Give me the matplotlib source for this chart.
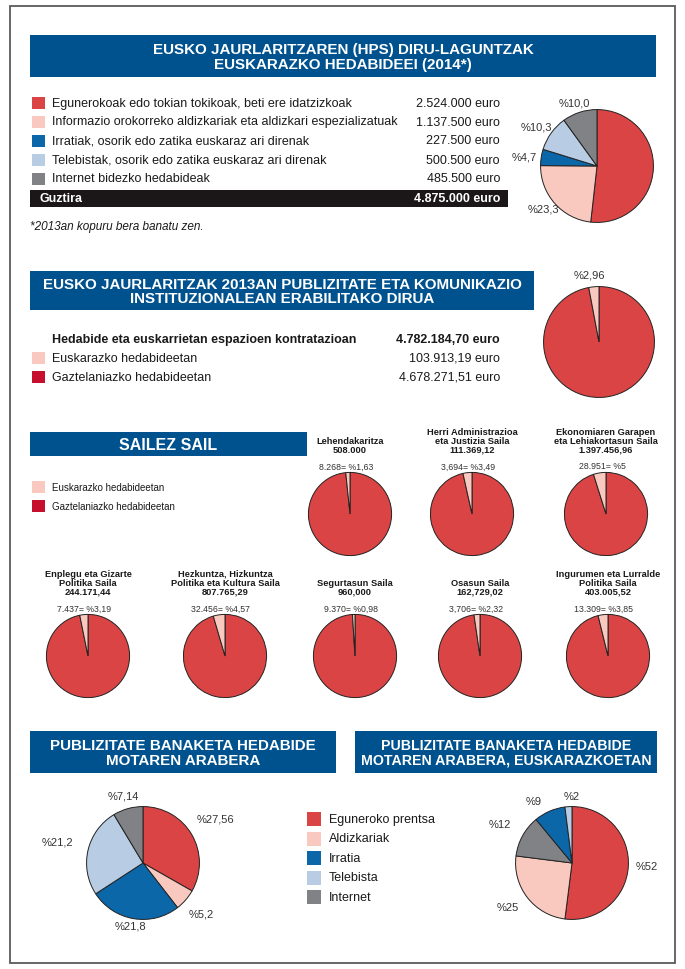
import matplotlib.pyplot as plt
from matplotlib.patches import Rectangle

plt.rcParams['font.family'] = ['Liberation Sans', 'DejaVu Sans']

W, H = 685, 970

RED = '#db4444'
PINK = '#f9c9c0'
BLUE = '#0b67a8'
LBLUE = '#b8cce4'
GRAY = '#818285'
HEAD = '#00528f'
DARKRED = '#c50f2c'
INNER = '#5a0a0a'
TXT = '#1a1a1a'

# --- data ---
subsidy_labels = ["Egunerokoak edo tokian tokikoak, beti ere idatzizkoak",
                  "Informazio orokorreko aldizkariak eta aldizkari espezializatuak",
                  "Irratiak, osorik edo zatika euskaraz ari direnak",
                  "Telebistak, osorik edo zatika euskaraz ari direnak",
                  "Internet bidezko hedabideak"]
subsidy_euro = [2524000, 1137500, 227500, 500500, 485500]
subsidy_total = 4875000
subsidy_pct = ["%51,8", "%23,3", "%4,7", "%10,3", "%10,0"]

spend_total = "4.782.184,70 euro"
spend_labels = ["Euskarazko hedabideetan", "Gaztelaniazko hedabideetan"]
spend_euro = ["103.913,19 euro", "4.678.271,51 euro"]
spend_pct = [2.96, 97.04]
spend_pct_text = ["%2,96", "%97,04"]

dept_names = ["Lehendakaritza\n508.000",
              "Herri Administrazioa\neta Justizia Saila\n111.369,12",
              "Ekonomiaren Garapen\neta Lehiakortasun Saila\n1.397.456,96",
              "Enplegu eta Gizarte\nPolitika Saila\n244.171,44",
              "Hezkuntza, Hizkuntza\nPolitika eta Kultura Saila\n807.765,29",
              "Segurtasun Saila\n960,000",
              "Osasun Saila\n162,729,02",
              "Ingurumen eta Lurralde\nPolitika Saila\n403.005,52"]
dept_eus_euro = ["8.268", "3,694", "28.951", "7.437", "32.456", "9.370", "3,706", "13.309"]
dept_eus_pct = [1.63, 3.49, 5, 3.19, 4.57, 0.98, 2.32, 3.85]
dept_gaz_pct = [98.37, 96.68, 97.93, 96.95, 95.98, 99.02, 97.72, 96.70]
dept_eus_text = ["%1,63", "%3,49", "%5", "%3,19", "%4,57", "%0,98", "%2,32", "%3,85"]
dept_gaz_text = ["%98,37", "%96,68", "%97,93", "%96,95", "%95,98", "%99,02", "%97,72", "%96,70"]

media_types = ["Eguneroko prentsa", "Aldizkariak", "Irratia", "Telebista", "Internet"]
media_all = [27.56, 5.2, 21.8, 21.2, 7.14]
media_all_text = ["%27,56", "%5,2", "%21,8", "%21,2", "%7,14"]
media_eus = [52, 25, 9, 2, 12]
media_eus_text = ["%52", "%25", "%9", "%2", "%12"]
media_eus_order = [0, 1, 4, 2, 3]   # clockwise order in the right pie

media_colors = [RED, PINK, BLUE, LBLUE, GRAY]


def euro(v):
    return f"{v:,}".replace(",", ".") + " euro"


fig = plt.figure(figsize=(W / 100, H / 100), dpi=100)
bg = fig.add_axes([0, 0, 1, 1])
bg.set_xlim(0, W)
bg.set_ylim(H, 0)
bg.axis('off')


def header(x0, y0, x1, y1, text, size=10.9):
    bg.add_patch(Rectangle((x0, y0), x1 - x0, y1 - y0, color=HEAD, lw=0))
    bg.text((x0 + x1) / 2, (y0 + y1) / 2 + 0.5, text, ha='center', va='center',
            color='white', fontsize=size, fontweight='bold', linespacing=1.08)


def square(x, y, color):
    bg.add_patch(Rectangle((x, y - 6), 13, 12, color=color, lw=0))


def draw_pie(cx, cy, r, values, colors):
    ax = fig.add_axes([(cx - r) / W, 1 - (cy + r) / H, 2 * r / W, 2 * r / H])
    ax.pie(values, colors=colors, startangle=90, counterclock=False,
           wedgeprops=dict(edgecolor='#222222', linewidth=0.7))
    ax.set_xlim(-1.01, 1.01)
    ax.set_ylim(-1.01, 1.01)
    return ax


# outer frame
bg.add_patch(Rectangle((10, 7), 665, 957, fill=False, ec='#5a5a5a', lw=1.3))

# --- section 1 ---
header(30, 36, 656, 78, "EUSKO JAURLARITZAREN (HPS) DIRU-LAGUNTZAK\nEUSKARAZKO HEDABIDEEI (2014*)")
row_y = [104, 122.5, 141.5, 160.5, 179.5]
for i, lab in enumerate(subsidy_labels):
    square(32, row_y[i], media_colors[i])
    bg.text(52, row_y[i], lab, ha='left', va='center', fontsize=9, color=TXT)
    bg.text(500, row_y[i], euro(subsidy_euro[i]), ha='right', va='center', fontsize=9, color=TXT)
bg.add_patch(Rectangle((30, 191), 478, 17, color='#1b1718', lw=0))
bg.text(40, 199.5, "Guztira", ha='left', va='center', fontsize=9, color='white', fontweight='bold')
bg.text(500, 199.5, euro(subsidy_total), ha='right', va='center', fontsize=9, color='white', fontweight='bold')
bg.text(30, 227, "*2013an kopuru bera banatu zen.", ha='left', va='center', fontsize=8.5,
        style='italic', color=TXT)

draw_pie(597, 167, 57, subsidy_euro, media_colors)
sub_lab_xy = [(625, 165), (543, 210), (524, 157), (536, 127), (574, 103)]
for i, t in enumerate(subsidy_pct):
    if i == 0:
        bg.text(*sub_lab_xy[i], t, ha='center', va='center', fontsize=9, color=INNER, fontweight='bold')
    else:
        bg.text(*sub_lab_xy[i], t, ha='center', va='center', fontsize=8, color='#333333')

# --- section 2 ---
header(30, 272, 534, 311, "EUSKO JAURLARITZAK 2013AN PUBLIZITATE ETA KOMUNIKAZIO\nINSTITUZIONALEAN ERABILITAKO DIRUA")
bg.text(52, 340, "Hedabide eta euskarrietan espazioen kontratazioan", ha='left', va='center',
        fontsize=9, fontweight='bold', color=TXT)
bg.text(500, 340, spend_total, ha='right', va='center', fontsize=9, fontweight='bold', color=TXT)
for i, lab in enumerate(spend_labels):
    y = 359 + i * 19
    square(32, y, [PINK, DARKRED][i])
    bg.text(52, y, lab, ha='left', va='center', fontsize=9, color=TXT)
    bg.text(500, y, spend_euro[i], ha='right', va='center', fontsize=9, color=TXT)

draw_pie(599, 343, 56, [spend_pct[1], spend_pct[0]], [RED, PINK])
bg.text(589, 276, spend_pct_text[0], ha='center', va='center', fontsize=8, color='#333333')
bg.text(602, 369, spend_pct_text[1], ha='center', va='center', fontsize=9, color=INNER)

# --- section 3 ---
header(30, 433, 307, 457, "SAILEZ SAIL", 11.5)
square(32, 488, PINK)
bg.text(52, 488, "Euskarazko hedabideetan", ha='left', va='center', fontsize=7, color=TXT)
square(32, 507, DARKRED)
bg.text(52, 507, "Gaztelaniazko hedabideetan", ha='left', va='center', fontsize=7, color=TXT)

dept_xy = [(350, 515), (472, 515), (606, 515),
           (88, 657), (225, 657), (355, 657), (480, 657), (608, 657)]
for i, name in enumerate(dept_names):
    cx, cy = dept_xy[i]
    draw_pie(cx, cy, 42, [dept_gaz_pct[i], dept_eus_pct[i]], [RED, PINK])
    bg.text(cx, cy - 60, name, ha='center', va='bottom', fontsize=6.7, fontweight='bold',
            color=TXT, linespacing=1.0)
    bg.text(cx - 4, cy - 48, dept_eus_euro[i] + "= " + dept_eus_text[i], ha='center', va='center',
            fontsize=6.3, color='#333333')
    bg.text(cx, cy + 22, dept_gaz_text[i], ha='center', va='center', fontsize=7, color=INNER)

# --- section 4 ---
header(30, 732, 336, 774, "PUBLIZITATE BANAKETA HEDABIDE\nMOTAREN ARABERA")
header(355, 732, 657, 774, "PUBLIZITATE BANAKETA HEDABIDE\nMOTAREN ARABERA, EUSKARAZKOETAN", 10.2)

draw_pie(143, 864, 57, media_all, media_colors)
all_lab_xy = [(215, 820), (201, 915), (130, 927), (57, 843), (123, 797)]
for i, t in enumerate(media_all_text):
    bg.text(*all_lab_xy[i], t, ha='center', va='center', fontsize=8, color='#333333')

for i, t in enumerate(media_types):
    y = 820 + i * 19.5
    bg.add_patch(Rectangle((307, y - 7), 14, 14, color=media_colors[i], lw=0))
    bg.text(329, y, t, ha='left', va='center', fontsize=9, color=TXT)

draw_pie(572, 864, 57, [media_eus[j] for j in media_eus_order],
         [media_colors[j] for j in media_eus_order])
eus_lab_xy = [(647, 867), (508, 908), (534, 802), (572, 797), (500, 825)]
for i, t in enumerate(media_eus_text):
    bg.text(*eus_lab_xy[i], t, ha='center', va='center', fontsize=8, color='#333333')

fig.savefig("out.png", dpi=100)
